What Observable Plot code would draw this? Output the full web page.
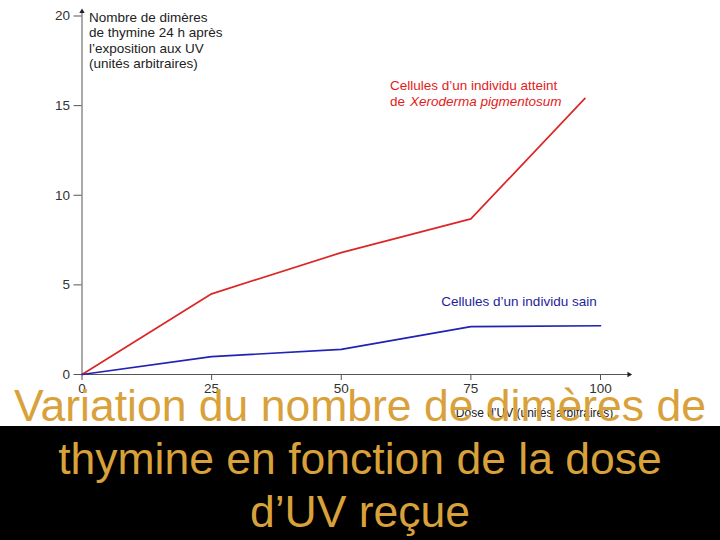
<!DOCTYPE html>
<html>
<head>
<meta charset="utf-8">
<script src="https://cdn.jsdelivr.net/npm/d3@7"></script>
<script src="https://cdn.jsdelivr.net/npm/@observablehq/plot@0.6"></script>
<style>
  html, body { margin: 0; padding: 0; background: #fff; }
  #wrap { position: relative; width: 720px; height: 540px; overflow: hidden; background: #fff; }
  #chart { position: absolute; left: 0; top: 0; }
  #band { position: absolute; left: 0; top: 426px; width: 720px; height: 114px; background: #000; }
  #title { position: absolute; left: 0; top: 379px; width: 720px; text-align: center;
           font-family: "Liberation Sans", Arial, sans-serif; font-size: 44.5px; line-height: 53px;
           color: #d9a13a; }
</style>
</head>
<body>
<div id="wrap">
  <div id="chart"></div>
  <div id="band"></div>
  <div id="title"></div>
</div>
<script>
// --- Data ---
const dosesSain = [0, 25, 50, 75, 100];
const valuesSain = [0, 1.0, 1.4, 2.67, 2.72];
const dosesXP = [0, 25, 50, 75, 97];
const valuesXP = [0, 4.5, 6.8, 8.68, 15.4];
const xTicks = [0, 25, 50, 75, 100];
const yTicks = [0, 5, 10, 15, 20];
const yTitle = "Nombre de dimères\nde thymine 24 h après\nl’exposition aux UV\n(unités arbitraires)";
const xTitle = "Dose d’UV (unités arbitraires)";
const xpLabel1 = "Cellules d’un individu atteint";
const xpLabel2a = "de";
const xpLabel2b = "Xeroderma pigmentosum";
const sainLabel = "Cellules d’un individu sain";
const titleLines = ["Variation du nombre de dimères de", "thymine en fonction de la dose", "d’UV reçue"];

const sain = dosesSain.map((d, i) => ({dose: d, value: valuesSain[i]}));
const xp = dosesXP.map((d, i) => ({dose: d, value: valuesXP[i]}));

const red = "#dc2626";
const redText = "#e31b1b";
const blue = "#2222b5";
const blueText = "#1e1e9c";
const axisColor = "#555";

const chart = Plot.plot({
  width: 720,
  height: 540,
  marginLeft: 81.5,
  marginRight: 120,
  marginTop: 15.5,
  marginBottom: 166,
  style: {fontFamily: "'Liberation Sans', Arial, sans-serif", fontSize: "13.5px", color: "#333", background: "transparent", overflow: "visible"},
  x: {domain: [0, 100]},
  y: {domain: [0, 20]},
  marks: [
    Plot.axisY(yTicks, {tickSize: 8, tickPadding: 4, label: null, fontSize: 13.5, stroke: axisColor, fill: "#333"}),
    Plot.axisX(xTicks, {tickSize: 6, tickPadding: 3, label: null, fontSize: 13.5, stroke: axisColor, fill: "#333"}),
    Plot.ruleX([0], {y1: 0, y2: 20.25, stroke: axisColor, strokeWidth: 1}),
    Plot.ruleY([0], {x1: 0, x2: 105.5, stroke: axisColor, strokeWidth: 1}),
    Plot.dot([{x: 0, y: 20.25}], {x: "x", y: "y", symbol: "triangle", r: 2, fill: "#222", stroke: null}),
    Plot.dot([{x: 105.5, y: 0}], {x: "x", y: "y", symbol: "triangle", r: 2, fill: "#222", stroke: null, rotate: 90}),
    Plot.line(xp, {x: "dose", y: "value", stroke: red, strokeWidth: 1.7}),
    Plot.line(sain, {x: "dose", y: "value", stroke: blue, strokeWidth: 1.7}),
    Plot.text([yTitle], {x: 0, y: 20, dx: 7, dy: -5.5, text: d => d, textAnchor: "start", lineAnchor: "top", lineHeight: 1.15, fontSize: 13.5, fill: "#222"}),
    Plot.text([xpLabel1], {x: 59.4, y: 16.4, text: d => d, textAnchor: "start", lineAnchor: "top", fontSize: 13.5, fill: redText}),
    Plot.text([xpLabel2a], {x: 59.4, y: 15.53, text: d => d, textAnchor: "start", lineAnchor: "top", fontSize: 13.5, fill: redText}),
    Plot.text([xpLabel2b], {x: 59.4, y: 15.53, dx: 20, text: d => d, textAnchor: "start", lineAnchor: "top", fontSize: 13.5, fontStyle: "italic", fill: redText}),
    Plot.text([sainLabel], {x: 69.3, y: 4.37, text: d => d, textAnchor: "start", lineAnchor: "top", fontSize: 13.5, fill: blueText}),
    Plot.text([xTitle], {x: 72.1, y: -1.87, text: d => d, textAnchor: "start", lineAnchor: "top", fontSize: 12, fill: "#222"})
  ]
});
document.getElementById("chart").appendChild(chart);
document.getElementById("title").innerHTML = titleLines.join("<br>");
</script>
</body>
</html>
